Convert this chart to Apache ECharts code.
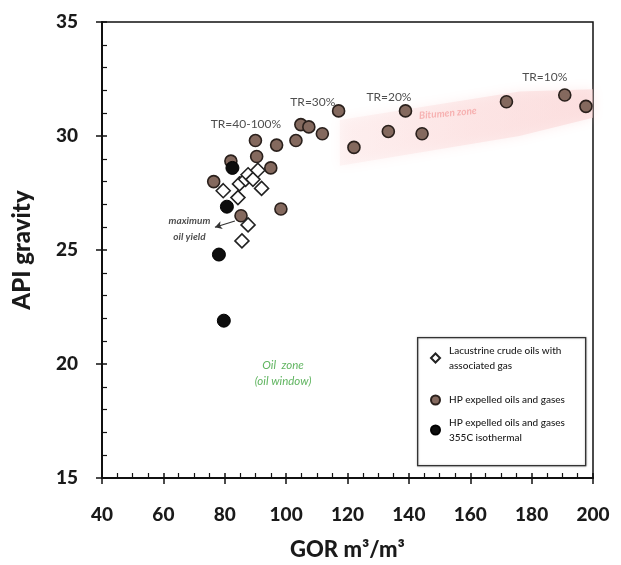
<!DOCTYPE html>
<html>
<head>
<meta charset="utf-8">
<script src="https://cdn.jsdelivr.net/npm/echarts@6/dist/echarts.min.js"></script>
<style>html,body{margin:0;padding:0;background:#fff;}#chart{width:621px;height:565px;}</style>
</head>
<body>
<div id="chart"></div>
<script>
// ---- data ----
var xTicks = [40, 60, 80, 100, 120, 140, 160, 180, 200];
var yTicks = [15, 20, 25, 30, 35];

var lacustrineGOR = [79.5, 84.3, 84.8, 86.8, 87.6, 89.2, 90.8, 92.0, 87.6, 85.6];
var lacustrineAPI = [27.6, 27.3, 27.9, 28.1, 28.3, 28.1, 28.5, 27.7, 26.1, 25.4];

var hpGOR = [76.4, 82.0, 85.3, 90.0, 90.4, 95.0, 96.9, 98.3, 103.2, 104.8, 107.4, 111.8, 117.1, 122.1, 133.3, 138.9, 144.3, 171.8, 190.8, 197.7];
var hpAPI = [28.0, 28.9, 26.5, 29.8, 29.1, 28.6, 29.6, 26.8, 29.8, 30.5, 30.4, 30.1, 31.1, 29.5, 30.2, 31.1, 30.1, 31.5, 31.8, 31.3];

var isoGOR = [82.5, 80.7, 78.1, 79.7];
var isoAPI = [28.6, 26.9, 24.8, 21.9];

var bandGOR = [117.5, 176, 200, 200, 176, 117.5];
var bandAPI = [30.7, 31.95, 32.05, 30.8, 30.0, 28.7];

var trText = ['TR=40-100%', 'TR=30%', 'TR=20%', 'TR=10%'];
var trGOR = [86.9, 108.7, 133.5, 184.3];
var trAPI = [30.5, 31.5, 31.7, 32.6];

var yieldText = ['maximum\noil yield'];
var yieldGOR = [68.5];
var yieldAPI = [25.95];
var arrowGOR = [83.3, 76.8];
var arrowAPI = [26.27, 26.0];

var zoneText = ['Oil  zone\n(oil window)'];
var zoneGOR = [99];
var zoneAPI = [19.58];

var bitText = ['Bitumen zone'];
var bitGOR = [152.7];
var bitAPI = [31.0];

var names = ['Lacustrine crude oils with associated gas', 'HP expelled oils and gases', 'HP expelled oils and gases 355C isothermal'];

function zip(a, b) { return a.map(function (v, i) { return [v, b[i]]; }); }
function zipN(t, a, b) { return t.map(function (s, i) { return { name: s, value: [a[i], b[i]] }; }); }

var FONT = 'Lato, "Open Sans", sans-serif';
var gridRect = { left: 102, right: 28, top: 22, bottom: 87, containLabel: false, outerBoundsMode: 'none' };

var chart = echarts.init(document.getElementById('chart'), null, { renderer: 'canvas' });

function legendBox(name, top, label, multi) {
  return {
    data: [name], orient: 'vertical', left: 430, top: top, padding: 0,
    itemWidth: 9, itemHeight: 9, selectedMode: false,
    formatter: function () { return label; },
    textStyle: { fontFamily: FONT, fontSize: 10, fontWeight: 500, color: '#1a1a1a', lineHeight: 15, padding: multi ? [15, 0, 0, 4] : [0, 0, 0, 4] }
  };
}

var option = {
  animation: false,
  backgroundColor: '#fff',
  grid: [
    Object.assign({ show: true, borderColor: '#111', borderWidth: 1.5, backgroundColor: 'transparent' }, gridRect),
    Object.assign({ show: false }, gridRect)
  ],
  xAxis: [{
    gridIndex: 0, type: 'value', min: xTicks[0], max: xTicks[xTicks.length - 1], interval: 20,
    name: 'GOR m³/m³', nameLocation: 'middle', nameGap: 61,
    nameTextStyle: { fontFamily: FONT, fontWeight: 900, fontSize: 22, color: '#1a1a1a' },
    axisLine: { lineStyle: { color: '#111', width: 2 } },
    axisTick: { show: true, inside: true, length: 5, lineStyle: { color: '#111', width: 1.5 } },
    minorTick: { show: true, splitNumber: 4, length: 5, lineStyle: { color: '#111', width: 1.2 } },
    splitLine: { show: false },
    axisLabel: { fontFamily: FONT, fontWeight: 900, fontSize: 19, color: '#1a1a1a', margin: 27 }
  }, {
    gridIndex: 1, type: 'value', min: xTicks[0], max: xTicks[xTicks.length - 1], interval: 20,
    axisLine: { show: false }, axisLabel: { show: false }, splitLine: { show: false },
    axisTick: { show: true, inside: false, length: 6, lineStyle: { color: '#111', width: 1.5 } }
  }],
  yAxis: [{
    gridIndex: 0, type: 'value', min: yTicks[0], max: yTicks[yTicks.length - 1], interval: 5,
    name: 'API gravity', nameLocation: 'middle', nameGap: 68,
    nameTextStyle: { fontFamily: FONT, fontWeight: 900, fontSize: 24, color: '#1a1a1a' },
    axisLine: { lineStyle: { color: '#111', width: 2 } },
    axisTick: { show: true, inside: true, length: 5, lineStyle: { color: '#111', width: 1.5 } },
    minorTick: { show: true, splitNumber: 5, length: 5, lineStyle: { color: '#111', width: 1.2 } },
    splitLine: { show: false },
    axisLabel: { fontFamily: FONT, fontWeight: 900, fontSize: 19, color: '#1a1a1a', margin: 24 }
  }, {
    gridIndex: 1, type: 'value', min: yTicks[0], max: yTicks[yTicks.length - 1], interval: 5,
    axisLine: { show: false }, axisLabel: { show: false }, splitLine: { show: false },
    axisTick: { show: true, inside: false, length: 6, lineStyle: { color: '#111', width: 1.5 } }
  }],
  legend: [
    legendBox(names[0], 335.5, 'Lacustrine crude oils with\nassociated gas', true),
    legendBox(names[1], 392.5, 'HP expelled oils and gases', false),
    legendBox(names[2], 407.5, 'HP expelled oils and gases\n355C isothermal', true)
  ],
  graphic: [{
    type: 'rect', left: 417, top: 337, z: 1,
    shape: { width: 168, height: 128 },
    style: { fill: '#fff', stroke: '#333', lineWidth: 1.3, shadowBlur: 2, shadowColor: 'rgba(0,0,0,0.3)' }
  }],
  series: [
    {
      type: 'custom', name: 'band', xAxisIndex: 0, yAxisIndex: 0, z: 1, silent: true,
      data: [[bandGOR[0], bandAPI[0]]],
      renderItem: function (params, api) {
        var pts = bandGOR.map(function (g, i) { return api.coord([g, bandAPI[i]]); });
        return {
          type: 'polygon', shape: { points: pts },
          style: {
            fill: new echarts.graphic.LinearGradient(0, 0, 1, 0, [
              { offset: 0, color: 'rgba(252,225,225,0.3)' },
              { offset: 0.5, color: 'rgba(251,215,215,0.45)' },
              { offset: 1, color: 'rgba(250,210,210,0.55)' }
            ]),
            shadowBlur: 12, shadowColor: 'rgba(250,200,200,0.6)'
          }
        };
      }
    },
    {
      type: 'scatter', name: names[1], z: 3, symbol: 'circle', symbolSize: 12,
      itemStyle: { color: '#84695e', borderColor: '#2a201c', borderWidth: 1.6, opacity: 1 },
      data: zip(hpGOR, hpAPI)
    },
    {
      type: 'scatter', name: names[0], z: 4, symbol: 'diamond', symbolSize: 14,
      itemStyle: { color: '#fff', borderColor: '#222', borderWidth: 1.6, opacity: 1 },
      data: zip(lacustrineGOR, lacustrineAPI)
    },
    {
      type: 'scatter', name: names[2], z: 5, symbol: 'circle', symbolSize: 13,
      itemStyle: { color: '#0d0d0d', borderColor: '#000', borderWidth: 1, opacity: 1 },
      data: zip(isoGOR, isoAPI)
    },
    {
      type: 'scatter', name: 'tr', z: 6, symbolSize: 0, silent: true,
      label: { show: true, position: 'inside', formatter: '{b}', fontFamily: FONT, fontSize: 12, color: '#222' },
      data: zipN(trText, trGOR, trAPI)
    },
    {
      type: 'scatter', name: 'yield', z: 6, symbolSize: 0, silent: true,
      label: { show: true, position: 'inside', formatter: '{b}', fontFamily: FONT, fontSize: 10, fontStyle: 'italic', fontWeight: 'bold', color: '#222', lineHeight: 16, align: 'center' },
      data: zipN(yieldText, yieldGOR, yieldAPI),
      markLine: {
        silent: true, symbol: ['none', 'arrow'], symbolSize: [6, 7],
        label: { show: false },
        lineStyle: { color: '#333', width: 1.2, type: 'solid' },
        data: [[{ coord: [arrowGOR[0], arrowAPI[0]] }, { coord: [arrowGOR[1], arrowAPI[1]] }]]
      }
    },
    {
      type: 'scatter', name: 'zone', z: 6, symbolSize: 0, silent: true,
      label: { show: true, position: 'inside', formatter: '{b}', fontFamily: FONT, fontSize: 11.5, fontStyle: 'italic', color: '#3aa33a', lineHeight: 16, align: 'center' },
      data: zipN(zoneText, zoneGOR, zoneAPI)
    },
    {
      type: 'scatter', name: 'bit', z: 2, symbolSize: 0, silent: true,
      label: { show: true, position: 'inside', formatter: '{b}', fontFamily: FONT, fontSize: 10, fontStyle: 'italic', fontWeight: 'bold', color: 'rgba(240,120,120,0.6)', rotate: 5 },
      data: zipN(bitText, bitGOR, bitAPI)
    }
  ]
};
chart.setOption(option);
</script>
</body>
</html>
